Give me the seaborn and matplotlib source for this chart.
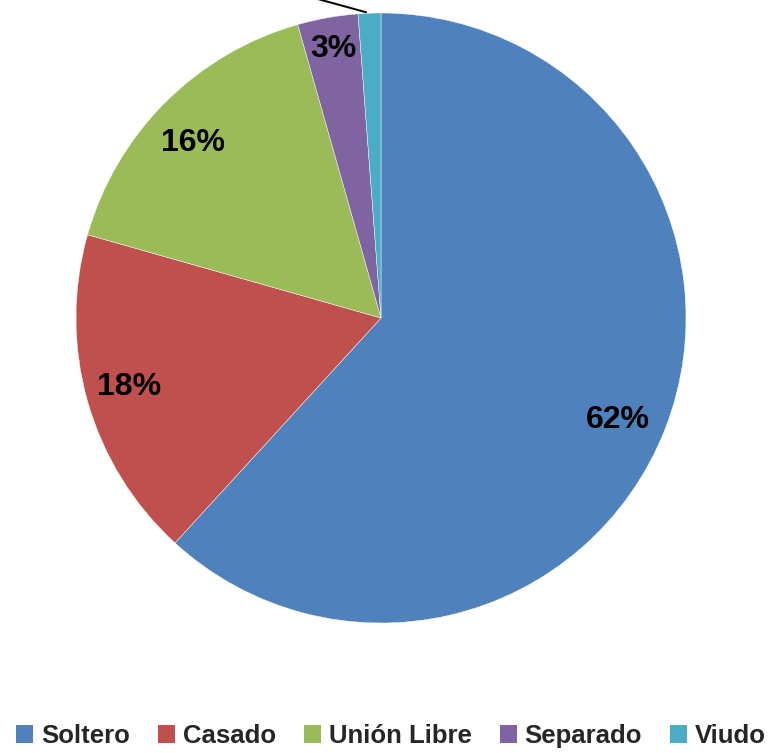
import matplotlib
matplotlib.use("Agg")
import matplotlib.pyplot as plt
import seaborn as sns
from matplotlib.patches import Patch

categories = ["Soltero", "Casado", "Unión Libre", "Separado", "Viudo"]
values = [61.8, 17.6, 16.2, 3.2, 1.2]
colors = ["#4F81BD", "#C0504D", "#9BBB59", "#8064A2", "#4BACC6"]
# label centres (data units, radius = 1)
label_pos = [(0.777, -0.334), (-0.826, -0.226), (-0.616, 0.574), (-0.157, 0.882)]

sns.set_theme(style="white")
plt.rcParams["font.family"] = ["Liberation Sans", "DejaVu Sans"]

W, H = 779, 753
fig = plt.figure(figsize=(W / 100, H / 100), dpi=100)
cx, cy, r = 381, 318, 305
ax = fig.add_axes([(cx - r) / W, (H - cy - r) / H, 2 * r / W, 2 * r / H])


def fmt(p):
    return f"{p:.0f}%" if p > 2 else ""


wedges, texts, autotexts = ax.pie(
    values, colors=colors, startangle=90, counterclock=False,
    autopct=fmt, pctdistance=0.85, radius=1,
    wedgeprops=dict(edgecolor="white", linewidth=0.3),
    textprops=dict(fontsize=23, fontweight="bold", color="black"),
)
for t, pos in zip(autotexts, label_pos):
    t.set_position(pos)

# Viudo label lies outside the canvas, only its leader line shows
ax.annotate("", xy=(-0.04, 1.0), xytext=(-0.55, 1.14),
            arrowprops=dict(arrowstyle="-", color="black", lw=1.4),
            annotation_clip=False)

ax.set_xlim(-1, 1)
ax.set_ylim(-1, 1)
ax.set_aspect("equal")
ax.axis("off")

handles = [Patch(facecolor=c, edgecolor="none") for c in colors]
fig.legend(handles, categories, loc="center", bbox_to_anchor=(391 / W, 1 - 736 / H),
           ncol=5, frameon=False, handlelength=0.66, handleheight=0.66,
           handletextpad=0.3, columnspacing=1.1, borderaxespad=0, borderpad=0,
           prop=dict(weight="bold", size=18.5))

fig.savefig("out.png", dpi=100, facecolor="white")
